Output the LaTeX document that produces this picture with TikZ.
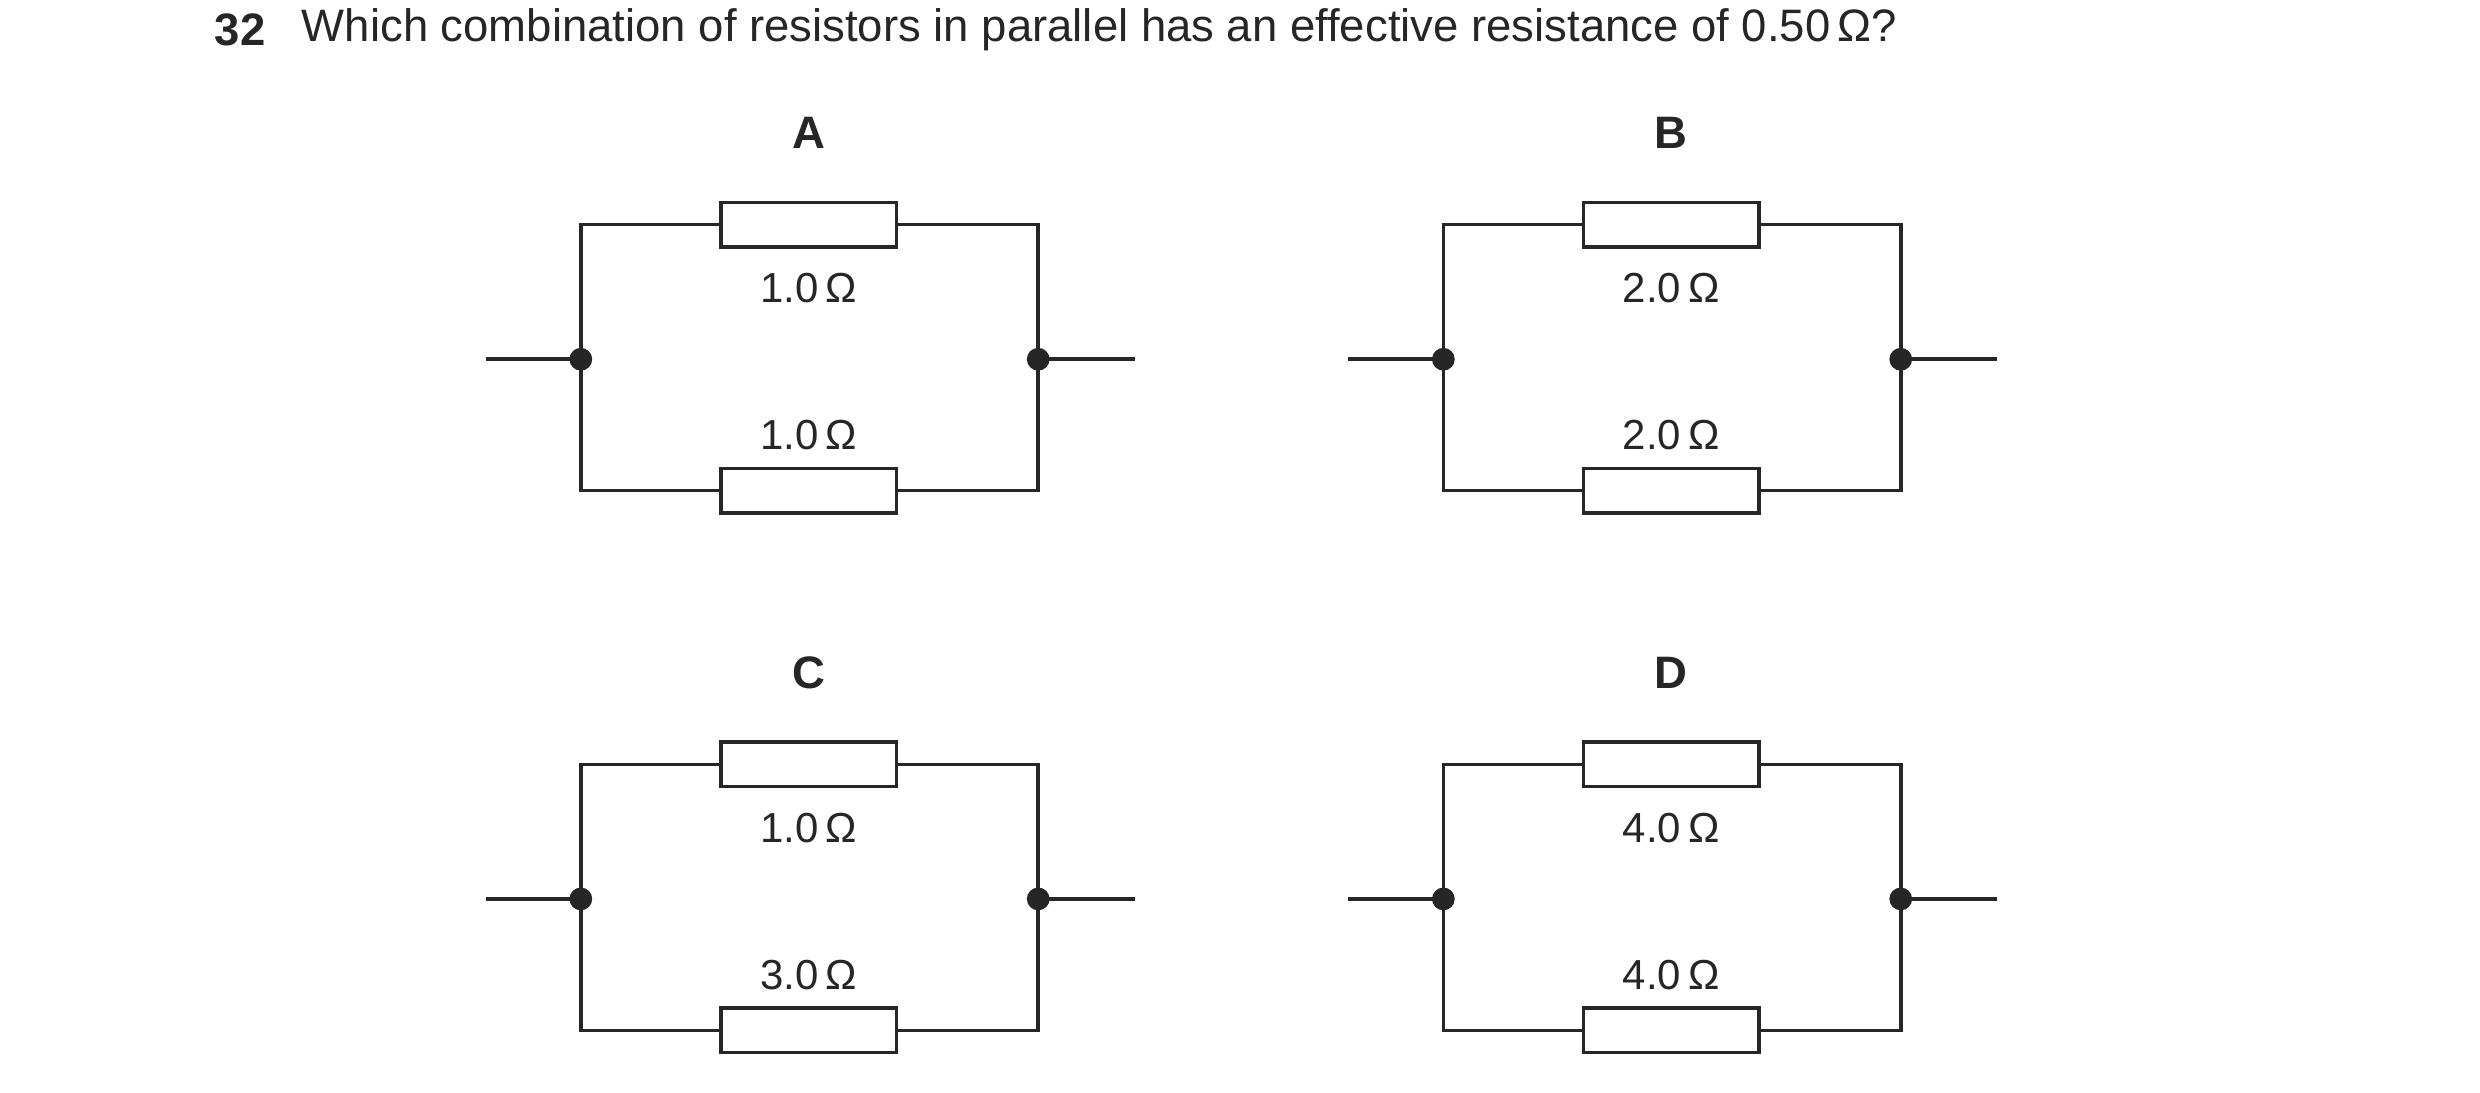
\documentclass[tikz,border=0pt]{standalone}
\usepackage{fontspec}
\setmainfont{Liberation Sans}
\begin{document}
\begin{tikzpicture}[x=0.0159cm,y=-0.0159cm,
  w/.style={line width=1pt,black!85},
  res/.style={draw=black!85,line width=1pt,minimum width=111*0.0159cm,minimum height=28*0.0159cm,inner sep=0pt},
  lab/.style={font=\fontsize{13pt}{15pt}\selectfont,text=black!85},
  val/.style={font=\fontsize{12pt}{14pt}\selectfont,text=black!85},
  dot/.style={circle,fill=black!85,inner sep=0pt,minimum size=6.5pt}]
\useasboundingbox (0,0) rectangle (1567,690.6);
\node[anchor=west,lab,font=\bfseries\fontsize{13pt}{15pt}\selectfont] (q) at (128,19) {32};
\node[anchor=west,lab] (qt) at (183,19) {Which combination of resistors in parallel has an effective resistance of 0.50\,Ω?};
\foreach \n/\dx/\dy/\a/\b in {A/0/0/1.0/1.0, B/545/0/2.0/2.0, C/0/341/1.0/3.0, D/545/341/4.0/4.0}{
 \begin{scope}[shift={(\dx,\dy)}]
  \node[lab,font=\bfseries\fontsize{13pt}{15pt}\selectfont] (t\n) at (511,84) {\n};
  \node[res] (r1\n) at (511,142) {};
  \node[res] (r2\n) at (511,310) {};
  \node[dot] (jl\n) at (367,227) {};
  \node[dot] (jr\n) at (656,227) {};
  \coordinate (el\n) at (307,227);
  \coordinate (er\n) at (717,227);
  \draw[w] (r1\n.west) -| (jl\n.center) |- (r2\n.west);
  \draw[w] (r1\n.east) -| (jr\n.center) |- (r2\n.east);
  \draw[w] (el\n) -- (jl\n.center);
  \draw[w] (jr\n.center) -- (er\n);
  \node[val] (v1\n) at (511,182) {\a\,Ω};
  \node[val] (v2\n) at (511,275) {\b\,Ω};
 \end{scope}}
\end{tikzpicture}
\end{document}
